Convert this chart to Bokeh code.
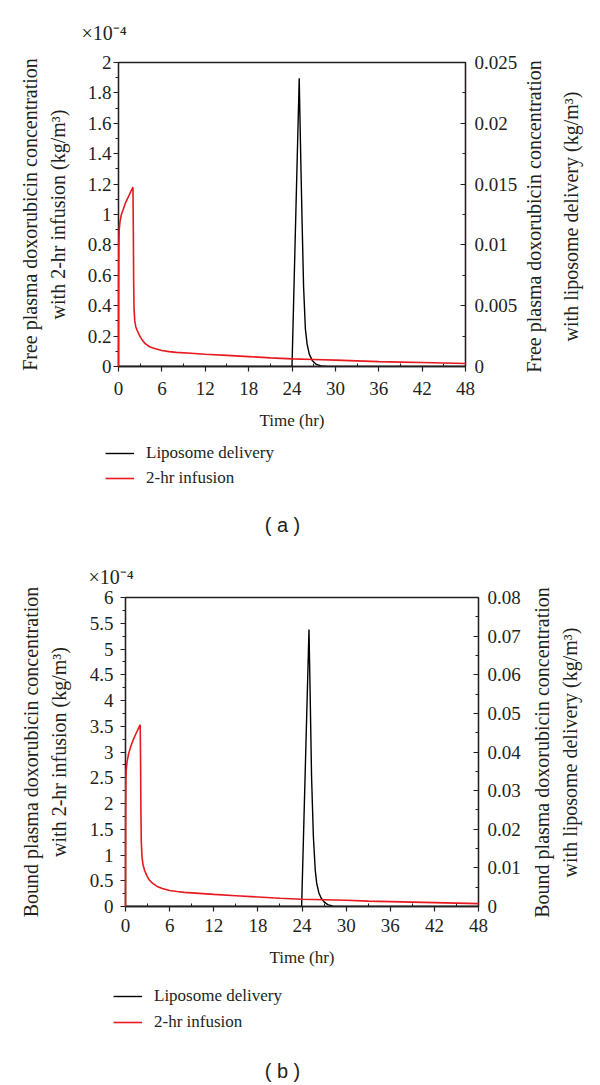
import math
from bokeh.plotting import figure
from bokeh.models import Range1d, LinearAxis, FixedTicker, Label, Legend, LegendItem, Title
from bokeh.layouts import column, row
from bokeh.embed import file_html
from bokeh.resources import INLINE

# ---------------- data ----------------
TIME_TICKS = [0, 6, 12, 18, 24, 30, 36, 42, 48]
TIME_MINOR = [3, 9, 15, 21, 27, 33, 39, 45]

# panel (a): free plasma doxorubicin
A_LEFT_TICKS = [0, 0.2, 0.4, 0.6, 0.8, 1.0, 1.2, 1.4, 1.6, 1.8, 2.0]
A_LEFT_LABELS = ["0", "0.2", "0.4", "0.6", "0.8", "1", "1.2", "1.4", "1.6", "1.8", "2"]
A_LEFT_MINOR = [0.1, 0.3, 0.5, 0.7, 0.9, 1.1, 1.3, 1.5, 1.7, 1.9]
A_RIGHT_TICKS = [0, 0.005, 0.01, 0.015, 0.02, 0.025]
A_RIGHT_LABELS = ["0", "0.005", "0.01", "0.015", "0.02", "0.025"]
A_RIGHT_MINOR = [0.0025, 0.0075, 0.0125, 0.0175, 0.0225]

# 2-hr infusion (x 1e-4 kg/m^3)
INF_A_T = [0, 0.02, 0.05, 0.1, 0.2, 0.4, 0.7, 1.0, 1.4, 1.8, 2.0, 2.05, 2.1, 2.15, 2.25,
           2.4, 2.6, 2.9, 3.2, 3.7, 4.3, 5.0, 6.0, 7.0, 8.0, 10, 12, 15, 18, 21, 24, 27,
           30, 33, 36, 39, 42, 45, 48]
INF_A_V = [0, 0.5, 0.8, 0.9, 0.95, 1.0, 1.04, 1.08, 1.12, 1.16, 1.18, 0.9, 0.55, 0.38, 0.3,
           0.26, 0.235, 0.205, 0.18, 0.15, 0.13, 0.118, 0.105, 0.098, 0.093, 0.087, 0.081,
           0.073, 0.065, 0.057, 0.05, 0.046, 0.042, 0.037, 0.032, 0.029, 0.026, 0.023, 0.02]
# liposome delivery (kg/m^3)
LIP_A_T = [0, 24.0, 25.0, 25.1, 25.25, 25.4, 25.6, 25.85, 26.1, 26.4, 26.8, 27.3, 28, 29, 48]
LIP_A_V = [0, 0, 0.0237, 0.0205, 0.016, 0.0118, 0.0066, 0.0031, 0.0018, 0.001, 0.0005,
           0.0002, 0.00005, 0, 0]

# panel (b): bound plasma doxorubicin
B_LEFT_TICKS = [0, 0.5, 1, 1.5, 2, 2.5, 3, 3.5, 4, 4.5, 5, 5.5, 6]
B_LEFT_LABELS = ["0", "0.5", "1", "1.5", "2", "2.5", "3", "3.5", "4", "4.5", "5", "5.5", "6"]
B_LEFT_MINOR = [0.25, 0.75, 1.25, 1.75, 2.25, 2.75, 3.25, 3.75, 4.25, 4.75, 5.25, 5.75]
B_RIGHT_TICKS = [0, 0.01, 0.02, 0.03, 0.04, 0.05, 0.06, 0.07, 0.08]
B_RIGHT_LABELS = ["0", "0.01", "0.02", "0.03", "0.04", "0.05", "0.06", "0.07", "0.08"]
B_RIGHT_MINOR = [0.005, 0.015, 0.025, 0.035, 0.045, 0.055, 0.065, 0.075]

INF_B_T = [0, 0.02, 0.05, 0.1, 0.2, 0.4, 0.7, 1.0, 1.4, 1.8, 2.0, 2.05, 2.1, 2.15, 2.25,
           2.4, 2.6, 2.9, 3.2, 3.7, 4.3, 5.0, 6.0, 7, 8, 10, 12, 15, 18, 21, 24, 27, 30,
           33, 36, 39, 42, 45, 48]
INF_B_V = [0, 1.6, 2.45, 2.65, 2.8, 2.95, 3.1, 3.22, 3.35, 3.47, 3.53, 2.8, 1.8, 1.25, 0.95,
           0.8, 0.7, 0.6, 0.52, 0.45, 0.39, 0.35, 0.31, 0.29, 0.275, 0.255, 0.235, 0.21,
           0.185, 0.16, 0.14, 0.13, 0.12, 0.105, 0.095, 0.085, 0.075, 0.065, 0.055]
LIP_B_T = [0, 23.95, 24.95, 25.1, 25.3, 25.55, 25.8, 26.0, 26.3, 26.6, 27.0, 27.5, 28.2, 29, 48]
LIP_B_V = [0, 0, 0.0717, 0.056, 0.0336, 0.018, 0.0095, 0.006, 0.0035, 0.0022, 0.0012,
           0.0005, 0.0001, 0, 0]

LEGEND_LABELS = ["Liposome delivery", "2-hr infusion"]

SERIF = "Liberation Serif"
SANS = "Liberation Sans"
INK = "#231f20"
RED = "#e8191e"


def no_align(f):
    try:
        f.frame_align = False
    except Exception:
        pass


def style_axis(ax, ticks, labels, minor, side, standoff):
    ax.ticker = FixedTicker(ticks=ticks, minor_ticks=minor)
    ax.major_label_overrides = {t: l for t, l in zip(ticks, labels)}
    ax.axis_line_color = INK
    ax.axis_line_width = 1.3
    ax.major_tick_line_color = INK
    ax.minor_tick_line_color = INK
    ax.major_tick_line_width = 1.2
    ax.minor_tick_line_width = 1.0
    ax.major_label_text_font = SERIF
    ax.major_label_text_font_size = "19px"
    ax.major_label_text_color = INK
    ax.axis_label_text_font = SERIF
    ax.axis_label_text_font_style = "normal"
    ax.axis_label_text_color = INK
    ax.major_label_standoff = standoff
    if side == "left":
        ax.major_tick_out, ax.major_tick_in = 5, 0
        ax.minor_tick_out, ax.minor_tick_in = 3, 0
    elif side == "right":
        ax.major_tick_out, ax.major_tick_in = 0, 5
        ax.minor_tick_out, ax.minor_tick_in = 0, 3
    else:
        ax.major_tick_out, ax.major_tick_in = 5, 0
        ax.minor_tick_out, ax.minor_tick_in = 0, 3


def blank(width, height, xr=(0, 1), yr=(0, 1)):
    f = figure(width=width, height=height, output_backend="svg", toolbar_location=None,
               x_range=Range1d(*xr), y_range=Range1d(*yr),
               x_axis_location=None, y_axis_location=None,
               min_border_left=0, min_border_right=0, min_border_top=0, min_border_bottom=0)
    f.grid.visible = False
    f.outline_line_color = None
    f.background_fill_color = "white"
    f.border_fill_color = "white"
    no_align(f)
    return f


def main_plot(width, height, borders, left_rng, right_rng, inf_t, inf_v, lip_t, lip_v,
              lticks, llabels, lminor, rticks, rlabels, rminor, left_title,
              x_standoff, y_standoff, title_standoff, exp_offset, exp_standoff):
    bl, br, bt, bb = borders
    p = figure(width=width, height=height, output_backend="svg", toolbar_location=None,
               x_range=Range1d(0, 48), y_range=Range1d(*left_rng),
               min_border_left=bl, min_border_right=br, min_border_top=bt, min_border_bottom=bb)
    no_align(p)
    p.extra_y_ranges = {"lip": Range1d(*right_rng)}
    p.grid.visible = False
    p.outline_line_color = INK
    p.outline_line_width = 1.3
    p.background_fill_color = "white"
    p.border_fill_color = "white"

    p.line(lip_t, lip_v, y_range_name="lip", line_color="black", line_width=1.4)
    p.line(inf_t, inf_v, line_color=RED, line_width=1.6, level="overlay")

    xa = p.xaxis[0]
    style_axis(xa, TIME_TICKS, [str(t) for t in TIME_TICKS], TIME_MINOR, "below", x_standoff)
    xa.axis_label = "Time (hr)"
    xa.axis_label_text_font_size = "17px"
    xa.axis_label_standoff = 13

    ya = p.yaxis[0]
    style_axis(ya, lticks, llabels, lminor, "left", y_standoff)
    ya.axis_label = left_title
    ya.axis_label_text_font_size = "20px"
    ya.axis_label_text_line_height = 1.25
    ya.axis_label_standoff = title_standoff

    ra = LinearAxis(y_range_name="lip")
    style_axis(ra, rticks, rlabels, rminor, "right", 9)
    p.add_layout(ra, "right")

    p.add_layout(Title(text="×10⁻⁴", text_font=SERIF, text_font_size="20px",
                       text_font_style="normal", text_color=INK, align="left",
                       offset=exp_offset, standoff=exp_standoff), "above")
    return p


def side_titles(width, height, line1, line2, x1, x2, yc):
    s = blank(width, height)
    for txt, xx in ((line1, x1), (line2, x2)):
        s.add_layout(Label(x=xx, y=yc, x_units="screen", y_units="screen", text=txt,
                           angle=math.pi / 2, text_font=SERIF, text_font_size="20px",
                           text_color=INK, text_align="center", text_baseline="middle"))
    return s


def bottom_block(width, height, lip_t, lip_v, inf_t, inf_v, legend_xy, spacing, caption, cap_xy):
    # ranges chosen so that the series themselves stay out of view; only the legend shows
    b = blank(width, height, xr=(-2, -1), yr=(-2, -1))
    r1 = b.line(lip_t, lip_v, line_color="black", line_width=1.4)
    r2 = b.line(inf_t, inf_v, line_color=RED, line_width=1.6)
    leg = Legend(items=[LegendItem(label=LEGEND_LABELS[0], renderers=[r1]),
                        LegendItem(label=LEGEND_LABELS[1], renderers=[r2])],
                 location=legend_xy, orientation="vertical")
    leg.padding = 0
    leg.margin = 0
    leg.border_line_alpha = 0
    leg.background_fill_alpha = 0
    leg.glyph_width = 29
    leg.glyph_height = 20
    leg.label_height = 20
    leg.spacing = spacing
    leg.label_standoff = 12
    leg.label_text_font = SERIF
    leg.label_text_font_size = "17px"
    leg.label_text_color = INK
    b.add_layout(leg, "center")
    b.add_layout(Label(x=cap_xy[0], y=cap_xy[1], x_units="screen", y_units="screen",
                       text=caption, text_font=SANS, text_font_size="20px",
                       text_color=INK, text_baseline="middle", text_align="center"))
    return b


main_a = main_plot(522, 440, (118, 57, 62, 74), (0, 2), (0, 0.025),
                   INF_A_T, INF_A_V, LIP_A_T, LIP_A_V,
                   A_LEFT_TICKS, A_LEFT_LABELS, A_LEFT_MINOR,
                   A_RIGHT_TICKS, A_RIGHT_LABELS, A_RIGHT_MINOR,
                   "Free plasma doxorubicin concentration\nwith 2-hr infusion (kg/m³)",
                   10, 2, 16, -37, 38)
side_a = side_titles(78, 440, "Free plasma doxorubicin concentration",
                     "with liposome delivery (kg/m³)", 11, 48, 224)
bot_a = bottom_block(600, 105, LIP_A_T, LIP_A_V, INF_A_T, INF_A_V,
                     (105, 57), 5, "( a )", (282, 21))

main_b = main_plot(526, 430, (125, 48, 52, 69), (0, 6), (0, 0.08),
                   INF_B_T, INF_B_V, LIP_B_T, LIP_B_V,
                   B_LEFT_TICKS, B_LEFT_LABELS, B_LEFT_MINOR,
                   B_RIGHT_TICKS, B_RIGHT_LABELS, B_RIGHT_MINOR,
                   "Bound plasma doxorubicin concentration\nwith 2-hr infusion (kg/m³)",
                   7, 7, 17, -37, 20)
side_b = side_titles(74, 430, "Bound plasma doxorubicin concentration",
                     "with liposome delivery (kg/m³)", 15, 43, 223)
bot_b = bottom_block(600, 110, LIP_B_T, LIP_B_V, INF_B_T, INF_B_V,
                     (113, 53), 6, "( b )", (282, 15))

layout = column(row(main_a, side_a, spacing=0), bot_a,
                row(main_b, side_b, spacing=0), bot_b, spacing=0)
open("out.html", "w").write(file_html(layout, INLINE))
